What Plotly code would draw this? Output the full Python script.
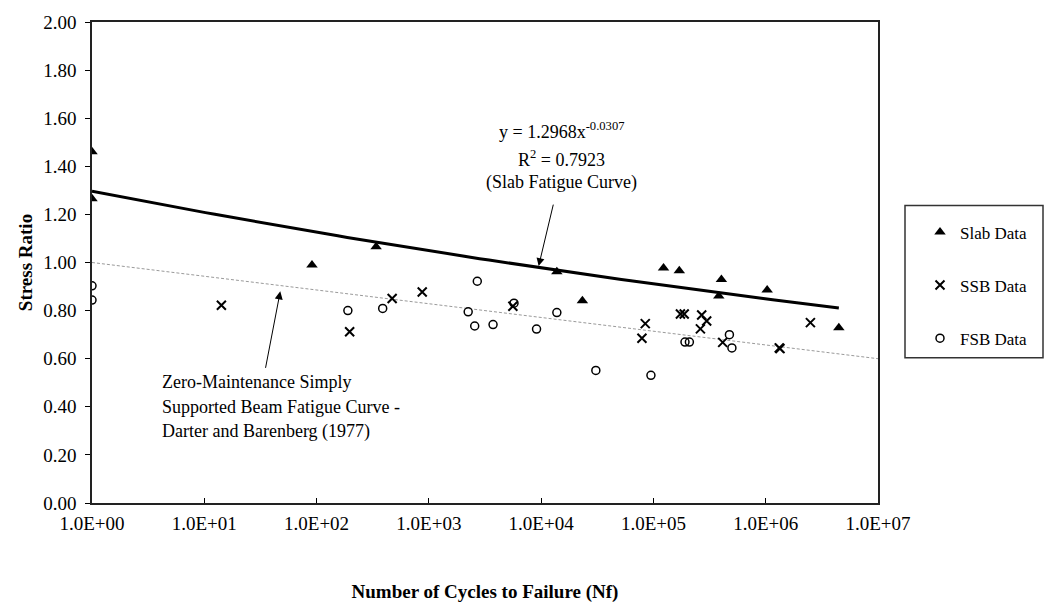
import numpy as np
import plotly.graph_objects as go

# ---- data -------------------------------------------------------------
slab_n = [1, 1, 91, 339, 13800, 23300, 123000, 170000, 382000, 403000, 1.03e6, 4.48e6]
slab_sr = [1.46, 1.265, 0.99, 1.066, 0.962, 0.841, 0.977, 0.966, 0.861, 0.929, 0.886, 0.729]

ssb_n = [14.2, 197, 471, 873, 5600, 79000, 84600, 174000, 188000, 262000,
         269000, 298000, 414000, 1.32e6, 1.34e6, 2.5e6]
ssb_sr = [0.822, 0.712, 0.85, 0.877, 0.818, 0.685, 0.746, 0.786, 0.786, 0.724,
          0.782, 0.757, 0.668, 0.645, 0.642, 0.75]

fsb_n = [1, 1, 190, 388, 2240, 2560, 2700, 3730, 5730, 9100, 13800, 30700,
         95000, 191000, 209000, 475000, 500000]
fsb_sr = [0.903, 0.844, 0.80, 0.809, 0.795, 0.736, 0.922, 0.742, 0.831, 0.723,
          0.792, 0.551, 0.531, 0.669, 0.669, 0.70, 0.645]

# power-law slab fatigue fit: y = a * x^b
fit_a = 1.2968
fit_b = -0.0307
fit_r2 = 0.7923
fit_range = [1, 4.48e6]

# zero-maintenance beam curve (Darter and Barenberg, 1977) end points
zm_n = [1, 1e7]
zm_sr = [1.00, 0.60]

x_tickvals = [1, 10, 100, 1e3, 1e4, 1e5, 1e6, 1e7]
x_ticktext = ["1.0E+00", "1.0E+01", "1.0E+02", "1.0E+03",
              "1.0E+04", "1.0E+05", "1.0E+06", "1.0E+07"]

FONT = "Liberation Serif, Times New Roman, serif"

# plot-area geometry in pixels (used to place free text in paper coordinates)
L, R, T, B = 92, 878, 18, 508
PW, PH = R - L, B - T


def px(x):
    return (x - L) / PW


def py(y):
    return (B - y) / PH


fit_x = np.logspace(np.log10(fit_range[0]), np.log10(fit_range[1]), 80)
fit_y = fit_a * fit_x ** fit_b

fig = go.Figure()

fig.add_trace(go.Scatter(x=zm_n, y=zm_sr, mode="lines",
                         line=dict(color="#9a9a9a", width=1, dash="3px,2px"),
                         showlegend=False, hoverinfo="skip"))
fig.add_trace(go.Scatter(x=fit_x, y=fit_y, mode="lines",
                         line=dict(color="black", width=3),
                         showlegend=False, hoverinfo="skip"))

fig.add_trace(go.Scatter(x=slab_n, y=slab_sr, mode="markers", name="Slab Data",
                         legendgroup="slab",
                         marker=dict(symbol="triangle-up", size=10, color="black")))
fig.add_trace(go.Scatter(x=ssb_n, y=ssb_sr, mode="markers", name="SSB Data",
                         legendgroup="ssb",
                         marker=dict(symbol="x-thin-open", size=9, color="black",
                                     line=dict(color="black", width=2))))
fig.add_trace(go.Scatter(x=fsb_n, y=fsb_sr, mode="markers", name="FSB Data",
                         legendgroup="fsb",
                         marker=dict(symbol="circle-open", size=8, color="black",
                                     line=dict(color="black", width=1.5))))

annotations = []

# fit equation block
eq_lines = [
    (f"y = {fit_a}x<sup>{fit_b}</sup>", 129),
    (f"R<sup>2</sup> = {fit_r2}", 157),
    ("(Slab Fatigue Curve)", 181),
]
for txt, yy in eq_lines:
    annotations.append(dict(text=txt, xref="paper", yref="paper",
                            x=px(561), y=py(yy),
                            xanchor="center", yanchor="middle", showarrow=False,
                            font=dict(family=FONT, size=18, color="black")))

# beam curve label block
zm_lines = [
    ("Zero-Maintenance Simply", 385),
    ("Supported Beam Fatigue Curve -", 410),
    ("Darter and Barenberg (1977)", 435),
]
for txt, yy in zm_lines:
    annotations.append(dict(text=txt, xref="paper", yref="paper",
                            x=px(160), y=py(yy),
                            xanchor="left", yanchor="middle", showarrow=False,
                            font=dict(family=FONT, size=18, color="black")))

# arrows
annotations.append(dict(x=np.log10(9500), y=0.985, xref="x", yref="y", text="",
                        showarrow=True, arrowhead=2, arrowsize=1.6, arrowwidth=1,
                        arrowcolor="black", ax=15, ay=-63))
annotations.append(dict(x=np.log10(47.5), y=0.88, xref="x", yref="y", text="",
                        showarrow=True, arrowhead=2, arrowsize=1.6, arrowwidth=1,
                        arrowcolor="black", ax=-15, ay=78))

fig.update_layout(
    width=1045, height=611,
    margin=dict(l=L, r=1045 - R, t=T, b=611 - B),
    paper_bgcolor="white", plot_bgcolor="white",
    font=dict(family=FONT, size=18, color="black"),
    annotations=annotations,
    showlegend=True,
    legend=dict(x=px(920), y=py(214), xanchor="left", yanchor="top",
                traceorder="grouped", tracegroupgap=28,
                font=dict(family=FONT, size=17, color="black"),
                bgcolor="rgba(0,0,0,0)", borderwidth=0),
    shapes=[dict(type="rect", xref="paper", yref="paper",
                 x0=px(905), x1=px(1043), y0=py(360), y1=py(205),
                 line=dict(color="#333", width=1.5))],
)

fig.update_xaxes(type="log", range=[0, 7], tickvals=x_tickvals, ticktext=x_ticktext,
                 showgrid=False, zeroline=False, showline=True, mirror=True,
                 linecolor="#222", linewidth=1.5, ticks="inside", ticklen=5,
                 tickcolor="black", ticklabelstandoff=2,
                 tickfont=dict(family=FONT, size=19),
                 title=dict(text="<b>Number of Cycles to Failure (Nf)</b>",
                            font=dict(family=FONT, size=19), standoff=52))
fig.update_yaxes(range=[0, 2], dtick=0.2, tickformat=".2f",
                 showgrid=False, zeroline=False, showline=True, mirror=True,
                 linecolor="#222", linewidth=1.5, ticks="outside", ticklen=5,
                 tickcolor="black", ticklabelstandoff=5,
                 tickfont=dict(family=FONT, size=19),
                 title=dict(text="<b>Stress Ratio</b>",
                            font=dict(family=FONT, size=19), standoff=6))

fig.write_html("out.html")
